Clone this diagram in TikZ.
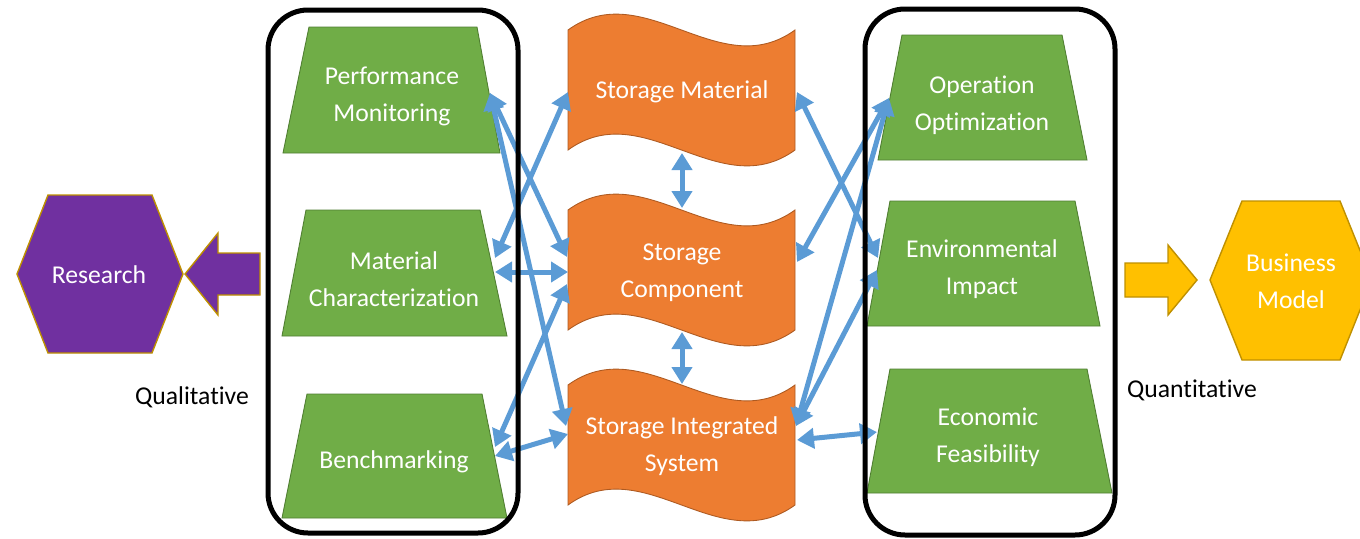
\documentclass[tikz,border=0pt]{standalone}
\usepackage{fontspec}
\setmainfont{Carlito}[Ligatures={NoCommon}]
\usetikzlibrary{arrows.meta}

\definecolor{leafgreen}{HTML}{70AD47}
\definecolor{leafedge}{HTML}{507E32}
\definecolor{rustorange}{HTML}{ED7D31}
\definecolor{rustedge}{HTML}{AE5A21}
\definecolor{linkblue}{HTML}{5B9BD5}
\definecolor{plum}{HTML}{7030A0}
\definecolor{amber}{HTML}{FFC000}
\definecolor{goldedge}{HTML}{BF9000}

\begin{document}
\begin{tikzpicture}[x=0.02cm, y=-0.02cm,
        every node/.style={font=\fontsize{14.6}{21}\selectfont, align=center, inner sep=0pt, text=white},
        trapbox/.style={fill=leafgreen, draw=leafedge, line width=0.5pt},
        wavebox/.style={fill=rustorange, draw=rustedge, line width=0.5pt},
        hexbox/.style={draw=goldedge, line width=0.8pt},
        groupbox/.style={draw=black, line width=0.1cm, rounded corners=0.8cm},
        linkarrow/.style={draw=linkblue, line width=0.1cm,
            {Triangle[length=0.34cm, width=0.4cm]}-{Triangle[length=0.34cm, width=0.4cm]}},
        sidetext/.style={text=black}]

        \useasboundingbox (0, 0) rectangle (1360, 538);

        % qualitative side
        \filldraw[hexbox, fill=plum] (17, 274) -- (48, 195) -- (152, 195) -- (183, 274) -- (152, 353) -- (48, 353) -- cycle;
        \filldraw[hexbox, fill=plum] (185, 274) -- (218, 233) -- (218, 253) -- (260, 253) -- (260, 295) -- (218, 295) -- (218, 315) -- cycle;
        \node (research) at (99, 275) {Research};
        \node[sidetext] (quali) at (192, 397) {Qualitative};

        % left column
        \filldraw[trapbox] (309, 27) -- (477, 27) -- (500, 153) -- (283, 153) -- cycle;
        \filldraw[trapbox] (306, 210) -- (480, 210) -- (507, 336) -- (282, 336) -- cycle;
        \filldraw[trapbox] (307, 394) -- (482, 394) -- (507, 518) -- (282, 518) -- cycle;
        \node (perf) at (392, 96) {Performance\\Monitoring};
        \node (matchar) at (394, 279) {Material\\Characterization};
        \node (bench) at (394, 462) {Benchmarking};

        % storage levels
        \foreach \yt in {30, 210, 385}{
                \filldraw[wavebox] (568, \yt) .. controls (644, \yt - 55) and (719, \yt + 55) .. (795, \yt)
                    -- (795, \yt + 120) .. controls (719, \yt + 175) and (644, \yt + 65) .. (568, \yt + 120) -- cycle;
            }
        \node (stmat) at (682, 92) {Storage Material};
        \node (stcomp) at (682, 273) {Storage\\Component};
        \node (stsys) at (682, 446) {Storage Integrated\\System};

        % right column
        \filldraw[trapbox] (902, 35) -- (1062, 35) -- (1087, 160) -- (878, 160) -- cycle;
        \filldraw[trapbox] (890, 201) -- (1075, 201) -- (1100, 326) -- (867, 326) -- cycle;
        \filldraw[trapbox] (890, 369) -- (1087, 369) -- (1112, 493) -- (867, 493) -- cycle;
        \node (opopt) at (982, 105) {Operation\\Optimization};
        \node (envimp) at (982, 269) {Environmental\\Impact};
        \node (econ) at (988, 437) {Economic\\Feasibility};

        % quantitative side
        \filldraw[hexbox, fill=amber] (1125, 263) -- (1168, 263) -- (1168, 245) -- (1197, 280) -- (1168, 315) -- (1168, 297) -- (1125, 297) -- cycle;
        \filldraw[hexbox, fill=amber] (1210, 280) -- (1242, 201) -- (1340, 201) -- (1372, 280) -- (1340, 360) -- (1242, 360) -- cycle;
        \node (busmod) at (1291, 281) {Business\\Model};
        \node[sidetext] (quanti) at (1192, 390) {Quantitative};

        % arrow ends
        \coordinate (perf-e) at (490, 93);
        \coordinate (matchar-e1) at (495, 258);
        \coordinate (matchar-e2) at (495, 272);
        \coordinate (bench-e1) at (495, 447);
        \coordinate (bench-e2) at (495, 456);
        \coordinate (stmat-w) at (568, 92);
        \coordinate (stmat-e) at (797, 92);
        \coordinate (stmat-s) at (682, 153);
        \coordinate (stcomp-n) at (682, 208);
        \coordinate (stcomp-s) at (682, 332);
        \coordinate (stcomp-w1) at (567, 257);
        \coordinate (stcomp-w2) at (568, 272);
        \coordinate (stcomp-w3) at (567, 284);
        \coordinate (stcomp-e) at (797, 262);
        \coordinate (stsys-n) at (682, 384);
        \coordinate (stsys-w1) at (566, 426);
        \coordinate (stsys-w2) at (568, 434);
        \coordinate (stsys-e1) at (796, 426);
        \coordinate (stsys-e2) at (797, 440);
        \coordinate (opopt-w) at (889, 98);
        \coordinate (envimp-w1) at (878, 258);
        \coordinate (envimp-w2) at (877, 270);
        \coordinate (econ-w) at (877, 432);

        \foreach \a/\b in {perf-e/stcomp-w1, perf-e/stsys-w1, stmat-w/matchar-e1, matchar-e2/stcomp-w2,
                stcomp-w3/bench-e1, bench-e2/stsys-w2, stmat-s/stcomp-n, stcomp-s/stsys-n,
                stmat-e/envimp-w1, opopt-w/stcomp-e, opopt-w/stsys-e1, envimp-w2/stsys-e1, stsys-e2/econ-w}{
                \draw[linkarrow] (\a) -- (\b);
            }

        % groups
        \draw[groupbox] (268, 10) rectangle (518, 533);
        \draw[groupbox] (865, 9) rectangle (1115, 535);

    \end{tikzpicture}
\end{document}
